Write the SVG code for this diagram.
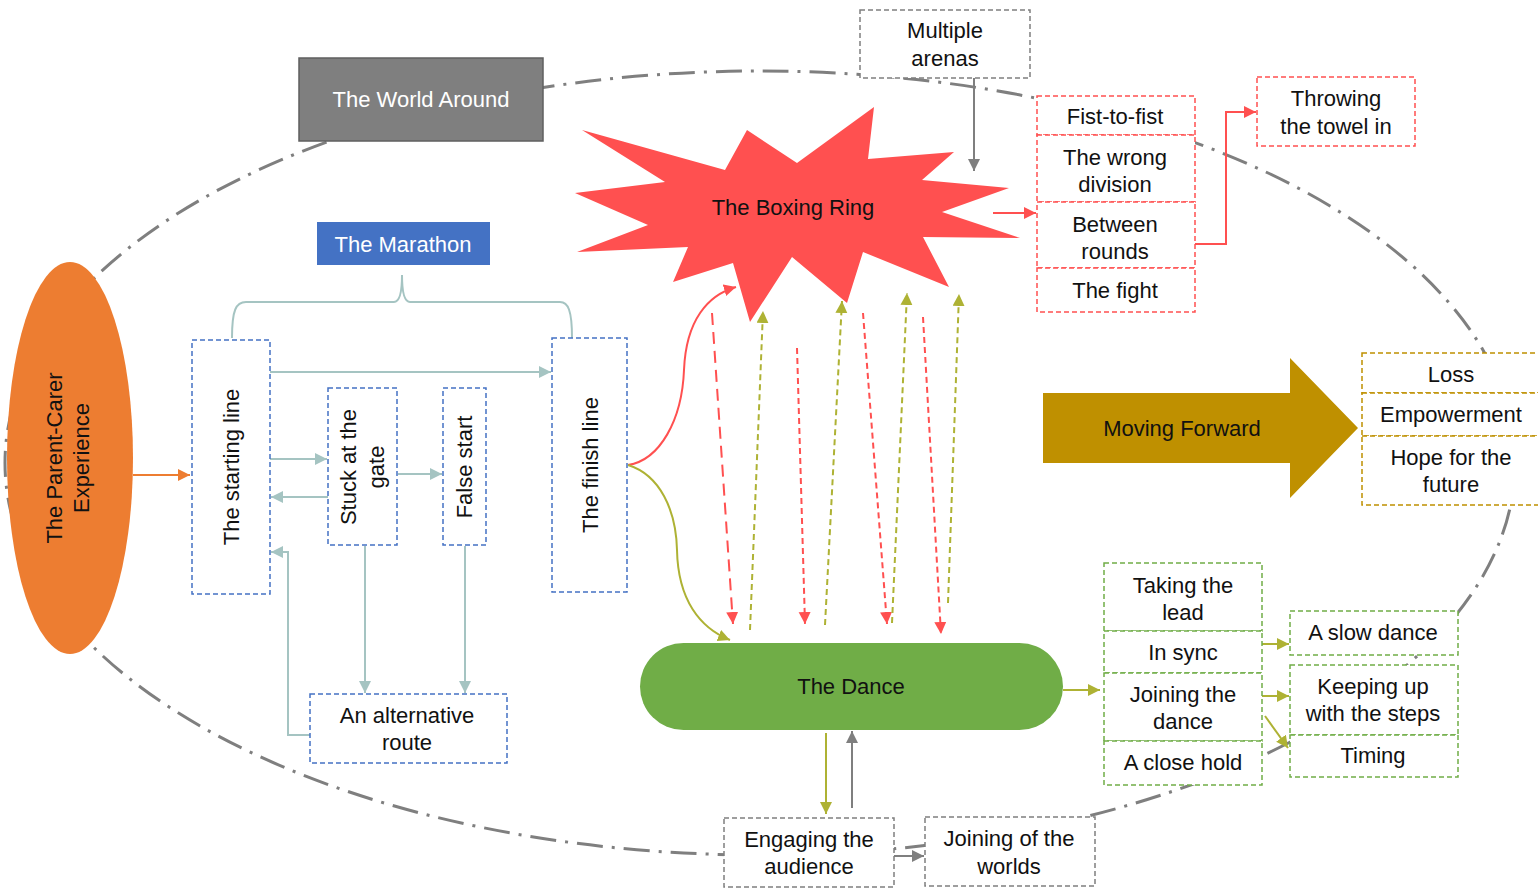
<svg xmlns="http://www.w3.org/2000/svg" width="1538" height="888" viewBox="0 0 1538 888">
<defs>
<style>
text{font-family:"Liberation Sans",Arial,sans-serif;font-size:22px;fill:#111;text-anchor:middle}
.w{fill:#fff}
.box{fill:#fff;stroke-width:1.5;stroke-dasharray:5 3}
.bl{stroke:#4472c4}.rd{stroke:#ff5050}.gr{stroke:#70ad47}.gd{stroke:#bf9000}.gy{stroke:#7f7f7f}
.c{fill:none;stroke-width:2}
.teal{stroke:#a5c4c2}.red{stroke:#ff5050}.ol{stroke:#aeb234}.gray{stroke:#7f7f7f}.or{stroke:#ed7d31}
</style>
<marker id="mT" markerWidth="14" markerHeight="14" refX="12" refY="6" orient="auto" markerUnits="userSpaceOnUse"><path d="M0,0L12,6L0,12z" fill="#a5c4c2"/></marker>
<marker id="mR" markerWidth="14" markerHeight="14" refX="12" refY="6" orient="auto" markerUnits="userSpaceOnUse"><path d="M0,0L12,6L0,12z" fill="#ff5050"/></marker>
<marker id="mO" markerWidth="14" markerHeight="14" refX="12" refY="6" orient="auto" markerUnits="userSpaceOnUse"><path d="M0,0L12,6L0,12z" fill="#aeb234"/></marker>
<marker id="mG" markerWidth="14" markerHeight="14" refX="12" refY="6" orient="auto" markerUnits="userSpaceOnUse"><path d="M0,0L12,6L0,12z" fill="#7f7f7f"/></marker>
<marker id="mOr" markerWidth="14" markerHeight="14" refX="12" refY="6" orient="auto" markerUnits="userSpaceOnUse"><path d="M0,0L12,6L0,12z" fill="#ed7d31"/></marker>
</defs>
<rect width="1538" height="888" fill="#fff"/>

<g id="boundary">
<ellipse cx="760" cy="463" rx="755" ry="392" fill="none" stroke="#7f7f7f" stroke-width="3" stroke-dasharray="26 9 3 9"/>
</g>

<g id="connectors">
<path class="c or" d="M133,475H190" marker-end="url(#mOr)"/>
<path class="c teal" d="M232,338C232,310 236,302 246,302H394C400,302 402,290 402,275C402,290 404,302 410,302H560C568,302 572,310 572,338"/>
<path class="c teal" d="M270,372H551" marker-end="url(#mT)"/>
<path class="c teal" d="M270,459H327" marker-end="url(#mT)"/>
<path class="c teal" d="M328,497H271" marker-end="url(#mT)"/>
<path class="c teal" d="M398,474H442" marker-end="url(#mT)"/>
<path class="c teal" d="M365,546V693" marker-end="url(#mT)"/>
<path class="c teal" d="M465,546V693" marker-end="url(#mT)"/>
<path class="c teal" d="M310,735H288V552H271" marker-end="url(#mT)"/>
<path class="c red" d="M628,465C660,460 682,420 684,370C686,320 708,295 736,287" marker-end="url(#mR)"/>
<path class="c ol" d="M628,465C660,475 676,510 677,550C678,600 700,628 730,640" marker-end="url(#mO)"/>
<path class="c red" stroke-width="3.5" stroke-dasharray="12 7" d="M712,313L733,624" marker-end="url(#mR)"/>
<path class="c ol" stroke-dasharray="6 4" d="M750,630L763,311" marker-end="url(#mO)"/>
<path class="c red" stroke-dasharray="6 4" d="M797,348L805,624" marker-end="url(#mR)"/>
<path class="c ol" stroke-dasharray="6 4" d="M825,625L842,301" marker-end="url(#mO)"/>
<path class="c red" stroke-dasharray="6 4" d="M863,313L887,624" marker-end="url(#mR)"/>
<path class="c ol" stroke-dasharray="6 4" d="M892,623L907,293" marker-end="url(#mO)"/>
<path class="c red" stroke-dasharray="6 4" d="M923,317L941,634" marker-end="url(#mR)"/>
<path class="c ol" stroke-dasharray="6 4" d="M948,603L959,294" marker-end="url(#mO)"/>
<path class="c gray" d="M974,78V171" marker-end="url(#mG)"/>
<path class="c red" d="M993,213H1036" marker-end="url(#mR)"/>
<path class="c red" d="M1195,244H1226V112H1256" marker-end="url(#mR)"/>
<path class="c ol" d="M1063,690H1100" marker-end="url(#mO)"/>
<path class="c ol" d="M1262,644H1289" marker-end="url(#mO)"/>
<path class="c ol" d="M1262,696H1289" marker-end="url(#mO)"/>
<path class="c ol" d="M1265,716L1288,748" marker-end="url(#mO)"/>
<path class="c ol" d="M826,733V814" marker-end="url(#mO)"/>
<path class="c gray" d="M852,808V731" marker-end="url(#mG)"/>
<path class="c gray" d="M894,856H924" marker-end="url(#mG)"/>
</g>

<g id="parent-carer">
<ellipse cx="70" cy="458" rx="63" ry="196" fill="#ed7d31"/>
<g transform="rotate(-90 68 458)"><text x="68" y="452">The Parent-Carer</text><text x="68" y="479">Experience</text></g>
</g>

<g id="world-around">
<rect x="299" y="58" width="244" height="83" fill="#7f7f7f" stroke="#5f5f5f" stroke-width="1.5"/>
<text class="w" x="421" y="107">The World Around</text>
</g>

<g id="marathon">
<rect x="317" y="222" width="173" height="43" fill="#4472c4"/>
<text class="w" x="403" y="252">The Marathon</text>
</g>

<g id="starting-line">
<rect class="box bl" x="192" y="340" width="78" height="254"/>
<text transform="rotate(-90 231 467)" x="231" y="475">The starting line</text>
</g>
<g id="stuck-gate">
<rect class="box bl" x="328" y="388" width="69" height="157"/>
<g transform="rotate(-90 362 467)"><text x="362" y="461">Stuck at the</text><text x="362" y="489">gate</text></g>
</g>
<g id="false-start">
<rect class="box bl" x="443" y="388" width="43" height="157"/>
<text transform="rotate(-90 464 467)" x="464" y="475">False start</text>
</g>
<g id="finish-line">
<rect class="box bl" x="552" y="338" width="75" height="254"/>
<text transform="rotate(-90 590 465)" x="590" y="473">The finish line</text>
</g>
<g id="alternative-route">
<rect class="box bl" x="310" y="694" width="197" height="69"/>
<text x="407" y="723">An alternative</text><text x="407" y="750">route</text>
</g>

<g id="boxing-ring">
<path fill="#ff5050" d="M582,130L725,170L747,130L797,163L874,107L868,159L954,152L922,180L1009,188L942,212L1020,238L923,237L949,287L863,252L847,303L792,257L750,322L733,263L673,282L688,247L577,252L648,225L575,193L665,182Z"/>
<text x="793" y="215">The Boxing Ring</text>
</g>

<g id="multiple-arenas">
<rect class="box gy" x="860" y="10" width="170" height="68"/>
<text x="945" y="38">Multiple</text><text x="945" y="66">arenas</text>
</g>

<g id="boxing-list">
<rect class="box rd" x="1037" y="96" width="158" height="39"/>
<text x="1115" y="124">Fist-to-fist</text>
<rect class="box rd" x="1037" y="135" width="158" height="67"/>
<text x="1115" y="165">The wrong</text><text x="1115" y="192">division</text>
<rect class="box rd" x="1037" y="202" width="158" height="66"/>
<text x="1115" y="232">Between</text><text x="1115" y="259">rounds</text>
<rect class="box rd" x="1037" y="268" width="158" height="44"/>
<text x="1115" y="298">The fight</text>
</g>
<g id="towel">
<rect class="box rd" x="1257" y="77" width="158" height="69"/>
<text x="1336" y="106">Throwing</text><text x="1336" y="134">the towel in</text>
</g>

<g id="moving-forward">
<path fill="#bf9000" d="M1043,393H1290V358L1358,428L1290,498V463H1043Z"/>
<text x="1182" y="436">Moving Forward</text>
</g>
<g id="forward-list">
<rect class="box gd" x="1362" y="353" width="178" height="40"/>
<text x="1451" y="382">Loss</text>
<rect class="box gd" x="1362" y="393" width="178" height="43"/>
<text x="1451" y="422">Empowerment</text>
<rect class="box gd" x="1362" y="436" width="178" height="69"/>
<text x="1451" y="465">Hope for the</text><text x="1451" y="492">future</text>
</g>

<g id="dance">
<rect x="640" y="643" width="423" height="87" rx="43.5" fill="#70ad47"/>
<text x="851" y="694">The Dance</text>
</g>
<g id="dance-list">
<rect class="box gr" x="1104" y="563" width="158" height="68"/>
<text x="1183" y="593">Taking the</text><text x="1183" y="620">lead</text>
<rect class="box gr" x="1104" y="631" width="158" height="42"/>
<text x="1183" y="660">In sync</text>
<rect class="box gr" x="1104" y="673" width="158" height="68"/>
<text x="1183" y="702">Joining the</text><text x="1183" y="729">dance</text>
<rect class="box gr" x="1104" y="741" width="158" height="44"/>
<text x="1183" y="770">A close hold</text>
</g>
<g id="dance-sub">
<rect class="box gr" x="1290" y="611" width="168" height="44"/>
<text x="1373" y="640">A slow dance</text>
<rect class="box gr" x="1290" y="665" width="168" height="70"/>
<text x="1373" y="694">Keeping up</text><text x="1373" y="721">with the steps</text>
<rect class="box gr" x="1290" y="735" width="168" height="42"/>
<text x="1373" y="763">Timing</text>
</g>

<g id="engaging">
<rect class="box gy" x="724" y="818" width="170" height="69"/>
<text x="809" y="847">Engaging the</text><text x="809" y="874">audience</text>
</g>
<g id="joining-worlds">
<rect class="box gy" x="925" y="817" width="170" height="69"/>
<text x="1009" y="846">Joining of the</text><text x="1009" y="874">worlds</text>
</g>
</svg>
